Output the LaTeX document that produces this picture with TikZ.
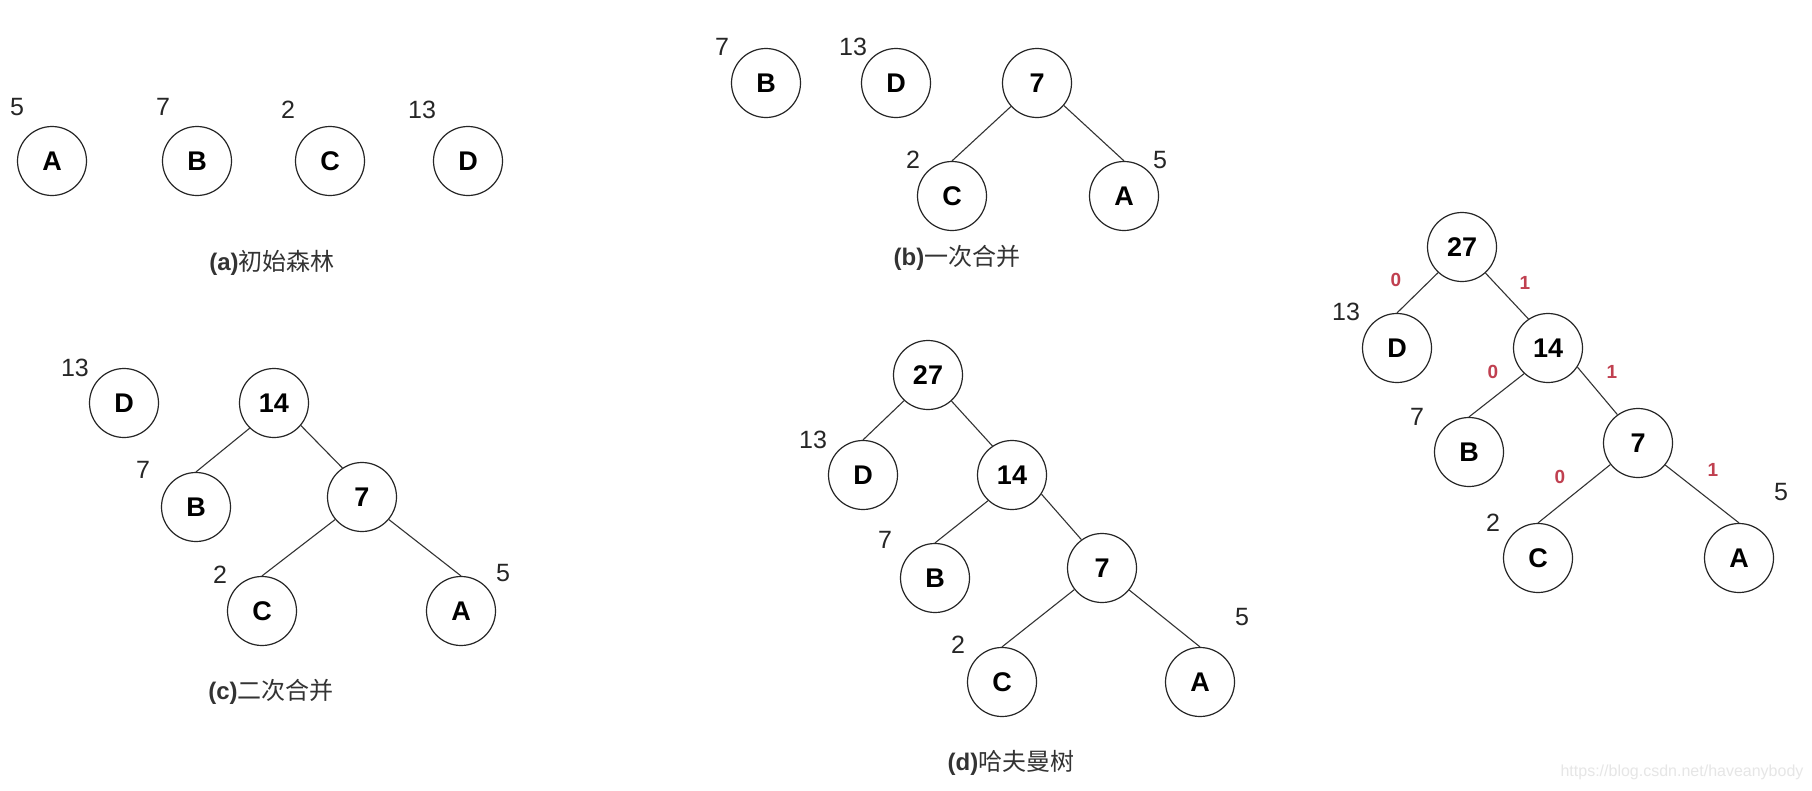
\documentclass[tikz,border=0pt]{standalone}
\usepackage{fontspec}
\setmainfont{Liberation Sans}
\newfontfamily\cjk{Noto Sans CJK SC}
\definecolor{codered}{RGB}{192,64,80}
\definecolor{wmark}{RGB}{230,230,230}
\tikzset{
  hnode/.style={circle, draw=black!85, line width=1.2pt, minimum size=69pt, inner sep=0pt,
    font=\bfseries\fontsize{27}{30}\selectfont},
  wlabel/.style={inner sep=0pt, font=\fontsize{25}{28}\selectfont, text=black!85},
  bitlabel/.style={inner sep=0pt, font=\bfseries\fontsize{19}{22}\selectfont, text=codered},
  captext/.style={inner sep=0pt, font=\fontsize{24}{28}\selectfont, text=black!80},
  treeedge/.style={line width=1.1pt, draw=black!80}
}
\begin{document}
\begin{tikzpicture}[x=1pt,y=-1pt]
\useasboundingbox (0,0) rectangle (1812,790);
\fill[white] (0,0) rectangle (1812,790);
% (a)
\node[hnode] (aA) at (52,161) {A};
\node[hnode] (aB) at (197,161) {B};
\node[hnode] (aC) at (330,161) {C};
\node[hnode] (aD) at (468,161) {D};
\node[wlabel] (awA) at (17,107) {5};
\node[wlabel] (awB) at (163,107) {7};
\node[wlabel] (awC) at (288,110) {2};
\node[wlabel] (awD) at (422,110) {13};
\node[captext] (capa) at (272,263) {\textbf{(a)}{\cjk 初始森林}};
% (b)
\node[hnode] (bB) at (766,83) {B};
\node[hnode] (bD) at (896,83) {D};
\node[hnode] (b7) at (1037,83) {7};
\node[hnode] (bC) at (952,196) {C};
\node[hnode] (bA) at (1124,196) {A};
\node[wlabel] (bwB) at (722,47) {7};
\node[wlabel] (bwD) at (853,47) {13};
\node[wlabel] (bwC) at (913,160) {2};
\node[wlabel] (bwA) at (1160,160) {5};
\draw[treeedge] (b7.222) -- (bC.north);
\draw[treeedge] (b7.-40) -- (bA.north);
\node[captext] (capb) at (957,258) {\textbf{(b)}{\cjk 一次合并}};
% (c)
\node[hnode] (cD) at (124,403) {D};
\node[hnode] (c14) at (274,403) {14};
\node[hnode] (cB) at (196,507) {B};
\node[hnode] (c7) at (362,497) {7};
\node[hnode] (cC) at (262,611) {C};
\node[hnode] (cA) at (461,611) {A};
\node[wlabel] (cwD) at (75,368) {13};
\node[wlabel] (cwB) at (143,470) {7};
\node[wlabel] (cwC) at (220,575) {2};
\node[wlabel] (cwA) at (503,573) {5};
\draw[treeedge] (c14.226) -- (cB.north);
\draw[treeedge] (c14.-40) -- (c7.124);
\draw[treeedge] (c7.220) -- (cC.north);
\draw[treeedge] (c7.-40) -- (cA.north);
\node[captext] (capc) at (271,692) {\textbf{(c)}{\cjk 二次合并}};
% (d)
\node[hnode] (d27) at (928,375) {27};
\node[hnode] (dD) at (863,475) {D};
\node[hnode] (d14) at (1012,475) {14};
\node[hnode] (dB) at (935,578) {B};
\node[hnode] (d7) at (1102,568) {7};
\node[hnode] (dC) at (1002,682) {C};
\node[hnode] (dA) at (1200,682) {A};
\node[wlabel] (dwD) at (813,440) {13};
\node[wlabel] (dwB) at (885,540) {7};
\node[wlabel] (dwC) at (958,645) {2};
\node[wlabel] (dwA) at (1242,617) {5};
\draw[treeedge] (d27.227) -- (dD.north);
\draw[treeedge] (d27.-48) -- (d14.124);
\draw[treeedge] (d14.227) -- (dB.north);
\draw[treeedge] (d14.-33) -- (d7.126);
\draw[treeedge] (d7.218) -- (dC.north);
\draw[treeedge] (d7.-39) -- (dA.north);
\node[captext] (capd) at (1011,763) {\textbf{(d)}{\cjk 哈夫曼树}};
% (e) coded tree
\node[hnode] (e27) at (1462,247) {27};
\node[hnode] (eD) at (1397,348) {D};
\node[hnode] (e14) at (1548,348) {14};
\node[hnode] (eB) at (1469,452) {B};
\node[hnode] (e7) at (1638,443) {7};
\node[hnode] (eC) at (1538,558) {C};
\node[hnode] (eA) at (1739,558) {A};
\node[wlabel] (ewD) at (1346,312) {13};
\node[wlabel] (ewB) at (1417,417) {7};
\node[wlabel] (ewC) at (1493,523) {2};
\node[wlabel] (ewA) at (1781,492) {5};
\draw[treeedge] (e27.227) -- (eD.north);
\draw[treeedge] (e27.-48) -- (e14.124);
\draw[treeedge] (e14.227) -- (eB.north);
\draw[treeedge] (e14.-33) -- (e7.126);
\draw[treeedge] (e7.218) -- (eC.north);
\draw[treeedge] (e7.-39) -- (eA.north);
\node[bitlabel] (bit1) at (1396,280) {0};
\node[bitlabel] (bit2) at (1525,283) {1};
\node[bitlabel] (bit3) at (1493,372) {0};
\node[bitlabel] (bit4) at (1612,372) {1};
\node[bitlabel] (bit5) at (1560,477) {0};
\node[bitlabel] (bit6) at (1713,470) {1};
% watermark
\node[inner sep=0pt, font=\fontsize{16}{18}\selectfont, text=wmark] (wm) at (1682,772) {https://blog.csdn.net/haveanybody};
\end{tikzpicture}
\end{document}
